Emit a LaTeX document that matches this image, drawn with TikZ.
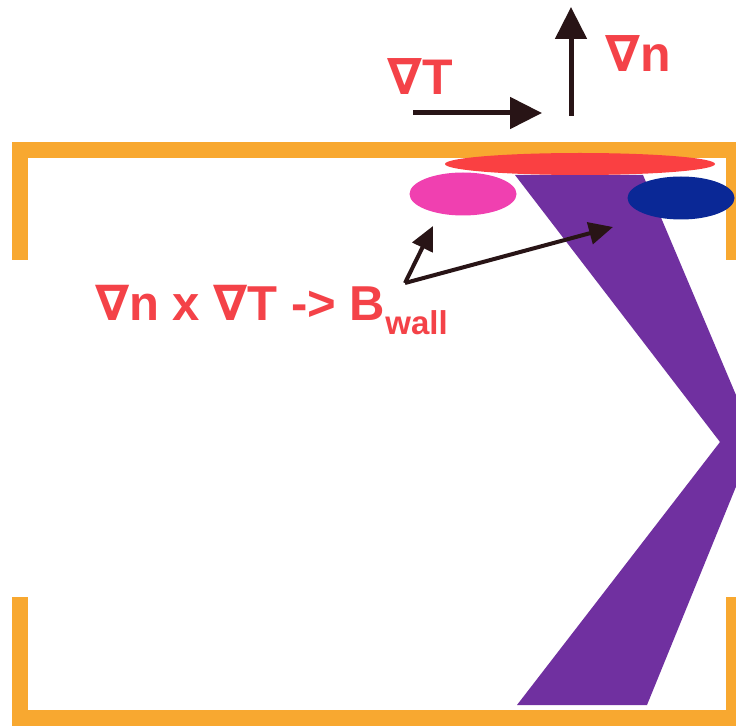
\documentclass[tikz,border=0pt]{standalone}
\usepackage{fontspec}
\setmainfont{Liberation Sans}
\newfontfamily\nablafont{DejaVu Sans}
\usetikzlibrary{arrows.meta,shapes.geometric}
\definecolor{frameorange}{RGB}{248,168,48}
\definecolor{beampurple}{RGB}{112,48,160}
\definecolor{hotred}{RGB}{250,64,66}
\definecolor{hotpink}{RGB}{240,64,176}
\definecolor{deepblue}{RGB}{10,40,150}
\definecolor{textred}{RGB}{244,66,72}
\definecolor{arrowdark}{RGB}{40,20,22}
\newcommand{\nab}{{\nablafont\bfseries ∇}}
\tikzset{
  framebar/.style={draw=frameorange,line width=16pt,line cap=butt,line join=miter},
  blob/.style={ellipse,inner sep=0pt,draw=none},
  bigarrow/.style={draw=arrowdark,line width=5pt,-{Triangle[length=32pt,width=31pt]}},
  smallarrow/.style={draw=arrowdark,line width=4pt,-{Triangle[length=24pt,width=22pt]}},
  lbl/.style={text=textred,font=\bfseries\fontsize{50}{50}\selectfont,inner sep=0pt,anchor=base west}
}
\begin{document}
\begin{tikzpicture}[x=1pt,y=-1pt]
\useasboundingbox (0,0) rectangle (736,727);
\fill[white] (0,0) rectangle (736,727);
\begin{scope}
\clip (0,0) rectangle (736,727);
% frame brackets
\draw[framebar] (20,260) -- (20,150) -- (734,150) -- (734,260);
\draw[framebar] (20,597) -- (20,718) -- (734,718) -- (734,597);
% purple beam
\fill[beampurple] (515,175) -- (643,175) -- (755,440) -- (647,705) -- (517,705) -- (720,442) -- cycle;
\end{scope}
% ellipses
\node[blob,fill=hotred,minimum width=270pt,minimum height=22pt] (spot) at (580,164) {};
\node[blob,fill=hotpink,minimum width=107pt,minimum height=43pt] (pinkb) at (463,194) {};
\node[blob,fill=deepblue,minimum width=107pt,minimum height=43pt] (blueb) at (681,198) {};
% gradient arrows
\coordinate (tstart) at (413,113);
\coordinate (tend) at (542,113);
\coordinate (nstart) at (571,116);
\coordinate (nend) at (571,7);
\draw[bigarrow] (tstart) -- (tend);
\draw[bigarrow] (nstart) -- (nend);
\node[lbl] (gradT) at (387,95) {\nab T};
\node[lbl] (gradn) at (605,72) {\nab n};
% label arrows
\coordinate (origin) at (405,283);
\coordinate (tippink) at (433,226);
\coordinate (tipblue) at (613,227);
\draw[smallarrow] (origin) -- (tippink);
\draw[smallarrow] (origin) -- (tipblue);
\node[lbl,font=\bfseries\fontsize{49}{49}\selectfont] (formula) at (95,320) {\nab n x \nab T -> B\raisebox{-14pt}{\fontsize{33}{33}\selectfont wall}};
\end{tikzpicture}
\end{document}
